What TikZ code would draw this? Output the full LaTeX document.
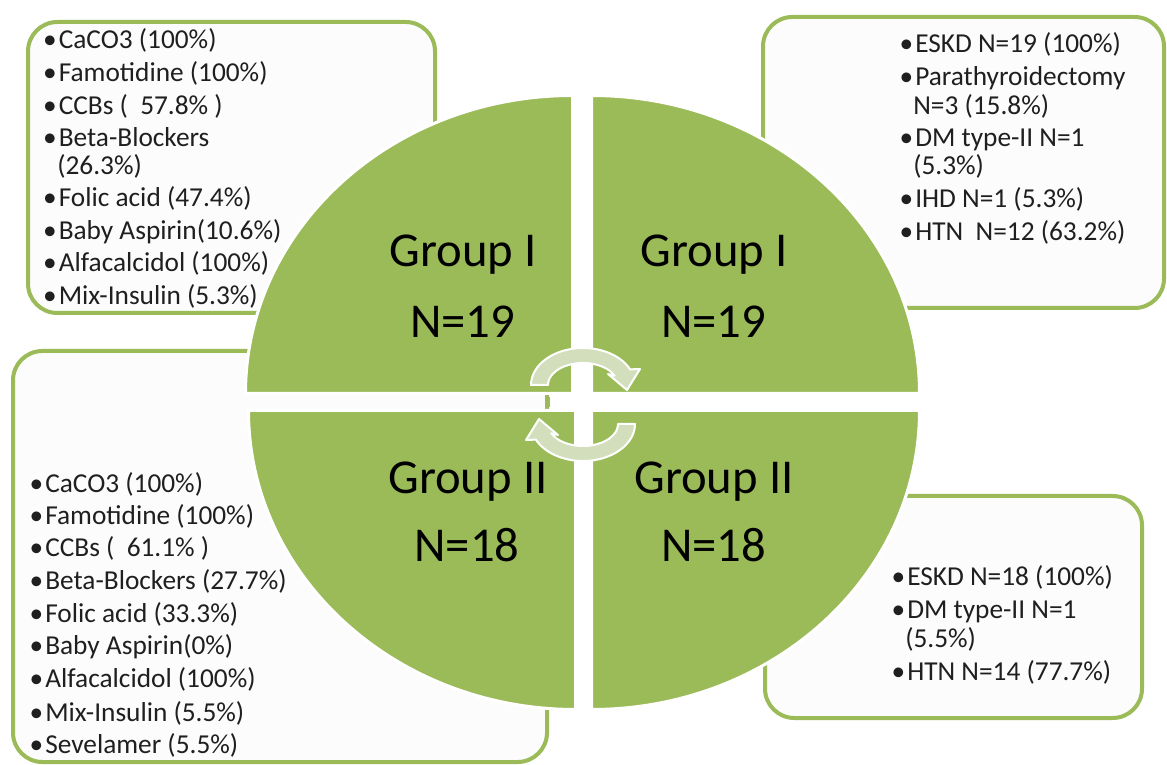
\documentclass[tikz,border=0pt]{standalone}
\usepackage{fontspec}
\setmainfont{Carlito}
\definecolor{grn}{HTML}{9BBB59}
\definecolor{txt}{HTML}{1F1F1F}
\definecolor{arw}{HTML}{D3DFBC}
\definecolor{boxbg}{HTML}{FCFCFC}
\newcommand{\mybul}{\llap{\textbullet\kern1.5pt}}
\newcommand{\mycycle}{%
  \path[cyc] (-52,0) arc[start angle=180,end angle=25,x radius=52,y radius=37]
    -- (57,16) -- (44,-5) -- (25,11) -- (31.7,9.3)
    arc[start angle=25,end angle=180,x radius=35,y radius=22] -- cycle;}
\tikzset{
  box/.style={draw=grn, line width=3pt, fill=boxbg, rounded corners=22pt},
  sector/.style={fill=grn, draw=white, line width=2.25pt},
  item/.style={anchor=base west, inner sep=0pt, font=\fontsize{20.5}{24}\selectfont, text=txt},
  grp/.style={anchor=base, inner sep=0pt, font=\fontsize{36.5}{40}\selectfont, text=black},
  cyc/.style={fill=arw, draw=white, line width=1.5pt, line join=round},
}
\begin{document}
\begin{tikzpicture}[x=0.75pt,y=0.75pt]
\useasboundingbox (0,0) rectangle (1167,764);
\fill[white] (0,0) rectangle (1167,764);
% boxes
\path[box] (28,451) rectangle (435,742);
\path[box] (763,456) rectangle (1164,747);
\path[box] (13,2) rectangle (547,413);
\path[box] (765,46) rectangle (1142,268);
% sectors
\path[sector] (572.5,370.5) -- ++(-327,0) arc[start angle=180,end angle=90,x radius=327,y radius=298] -- cycle;
\path[sector] (591.5,370.5) -- ++(328,0) arc[start angle=0,end angle=90,x radius=328,y radius=298] -- cycle;
\path[sector] (575.5,353.5) -- ++(-327,0) arc[start angle=180,end angle=270,x radius=327,y radius=299] -- cycle;
\path[sector] (591.5,353.5) -- ++(328,0) arc[start angle=0,end angle=-90,x radius=328,y radius=299] -- cycle;
% small mark in gap
\fill[grn] (546,357) rectangle (550,367);
% cycle arrows
\begin{scope}[shift={(583,379)}]\mycycle\end{scope}
\begin{scope}[shift={(583,340)},rotate=180]\mycycle\end{scope}
% group labels
\node[grp] (g1a) at (463,497) {Group I};
\node[grp] (g1b) at (462.5,426) {N=19};
\node[grp] (g2a) at (714,497) {Group I};
\node[grp] (g2b) at (713.5,426) {N=19};
\node[grp] (g3a) at (468,270) {Group II};
\node[grp] (g3b) at (467,202) {N=18};
\node[grp] (g4a) at (714,270) {Group II};
\node[grp] (g4b) at (713.5,202) {N=18};
% top-left list
\node[item] (a1) at (58.5,715) {\mybul CaCO3 (100\%)};
\node[item] (a2) at (58.5,682) {\mybul Famotidine (100\%)};
\node[item] (a3) at (58.5,649) {\mybul CCBs ( \ 57.8\% )};
\node[item] (a4) at (58.5,617) {\mybul Beta-Blockers};
\node[item] (a5) at (57,589) {(26.3\%)};
\node[item] (a6) at (58.5,557) {\mybul Folic acid (47.4\%)};
\node[item] (a7) at (58.5,524) {\mybul Baby Aspirin(10.6\%)};
\node[item] (a8) at (58.5,492) {\mybul Alfacalcidol (100\%)};
\node[item] (a9) at (58.5,459) {\mybul Mix-Insulin (5.3\%)};
% top-right list
\node[item] (b1) at (915,711) {\mybul ESKD N=19 (100\%)};
\node[item] (b2) at (915,678) {\mybul Parathyroidectomy};
\node[item] (b3) at (913,649) {N=3 (15.8\%)};
\node[item] (b4) at (915,617) {\mybul DM type-II N=1};
\node[item] (b5) at (913,589) {(5.3\%)};
\node[item] (b6) at (915,556) {\mybul IHD N=1 (5.3\%)};
\node[item] (b7) at (915,523) {\mybul HTN \ N=12 (63.2\%)};
% bottom-left list
\node[item] (c1) at (45,271) {\mybul CaCO3 (100\%)};
\node[item] (c2) at (45,239) {\mybul Famotidine (100\%)};
\node[item] (c3) at (45,207) {\mybul CCBs ( \ 61.1\% )};
\node[item] (c4) at (45,174) {\mybul Beta-Blockers (27.7\%)};
\node[item] (c5) at (45,141) {\mybul Folic acid (33.3\%)};
\node[item] (c6) at (45,109) {\mybul Baby Aspirin(0\%)};
\node[item] (c7) at (45,76) {\mybul Alfacalcidol (100\%)};
\node[item] (c8) at (45,43) {\mybul Mix-Insulin (5.5\%)};
\node[item] (c9) at (45,11) {\mybul Sevelamer (5.5\%)};
% bottom-right list
\node[item] (d1) at (907,178) {\mybul ESKD N=18 (100\%)};
\node[item] (d2) at (907,145) {\mybul DM type-II N=1};
\node[item] (d3) at (905,116) {(5.5\%)};
\node[item] (d4) at (907,84) {\mybul HTN N=14 (77.7\%)};
\end{tikzpicture}
\end{document}
